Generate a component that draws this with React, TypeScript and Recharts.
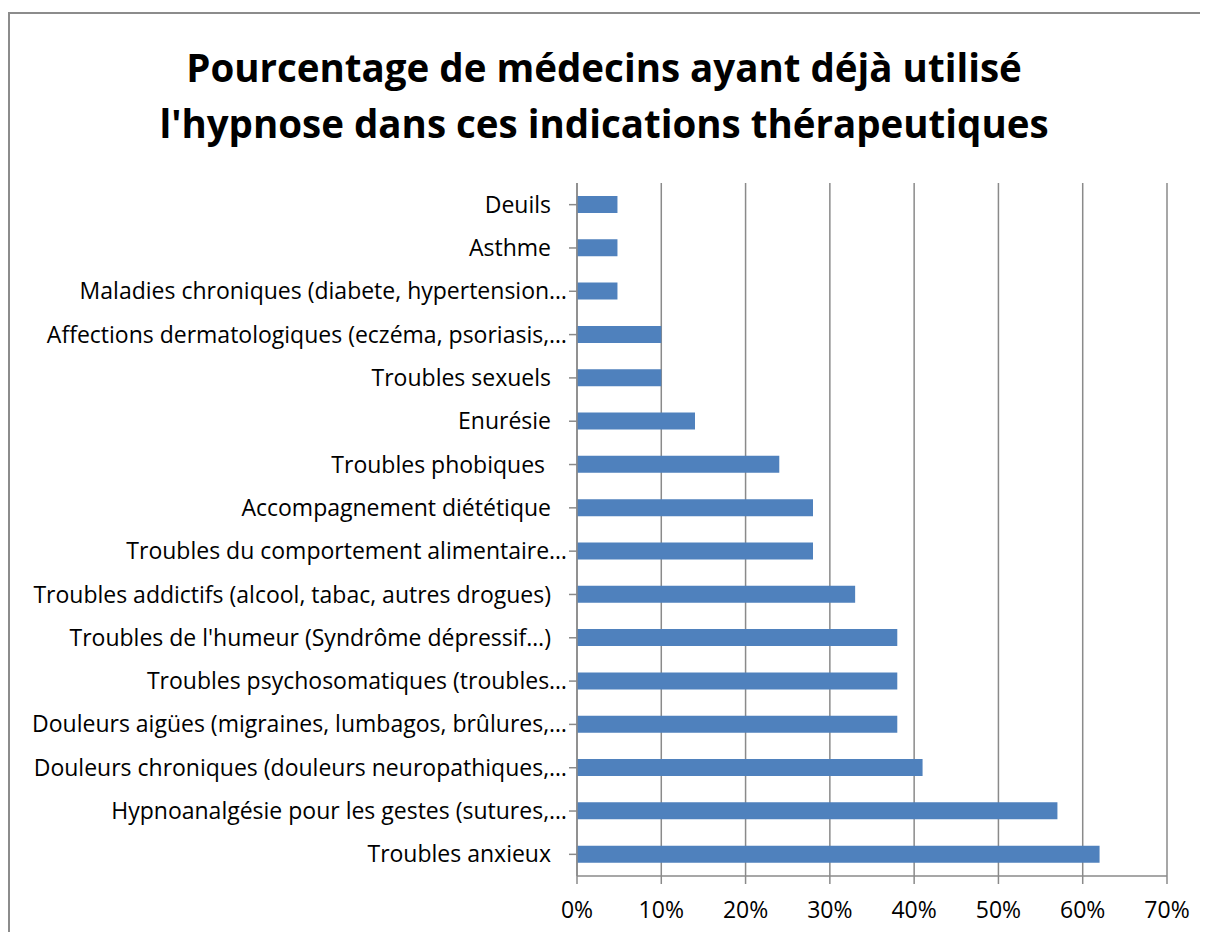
import { BarChart, Bar, XAxis, YAxis, CartesianGrid } from "recharts"

// Indications thérapeutiques, de haut en bas comme dans le graphique d'origine.
const categories = [
  "Deuils ",
  "Asthme ",
  "Maladies chroniques (diabete, hypertension…",
  "Affections dermatologiques (eczéma, psoriasis,…",
  "Troubles sexuels ",
  "Enurésie ",
  "Troubles phobiques  ",
  "Accompagnement diététique ",
  "Troubles du comportement alimentaire…",
  "Troubles addictifs (alcool, tabac, autres drogues) ",
  "Troubles de l'humeur (Syndrôme dépressif…) ",
  "Troubles psychosomatiques (troubles…",
  "Douleurs aigües (migraines, lumbagos, brûlures,…",
  "Douleurs chroniques (douleurs neuropathiques,…",
  "Hypnoanalgésie pour les gestes (sutures,…",
  "Troubles anxieux ",
]

// % de médecins
const pourcentages = [4.8, 4.8, 4.8, 10, 10, 14, 24, 28, 28, 33, 38, 38, 38, 41, 57, 62]

const xTicks = [0, 10, 20, 30, 40, 50, 60, 70]

const titleLines = [
  "Pourcentage de médecins ayant déjà utilisé",
  "l'hypnose dans ces indications thérapeutiques",
]

const data = categories.map((name, i) => ({ name, value: pourcentages[i] }))

const FONT = "'Open Sans', sans-serif"
const GRID = "#8a8a8a"

function CategoryTick(props: any) {
  const { x, y, payload } = props
  const label: string = payload.value
  const truncated = label.trimEnd().endsWith("…")
  // les libellés complets s'arrêtent un peu plus loin de l'axe que ceux tronqués
  return (
    <text
      x={truncated ? x : x - 16}
      y={y}
      dy="0.35em"
      textAnchor="end"
      fill="#000"
      fontSize={23}
      fontFamily={FONT}
      style={{ whiteSpace: "pre" }}
    >
      {truncated ? label.trimEnd() : label.replace(/ $/, "")}
    </text>
  )
}

export default function App() {
  return (
    <div
      style={{
        position: "relative",
        top: 4,
        width: 1200,
        height: 924,
        overflow: "hidden",
        background: "#fff",
        fontFamily: FONT,
      }}
    >
      <style>{`html, body { overflow: hidden; }`}</style>
      <div
        style={{
          position: "absolute",
          left: 0,
          top: 0,
          width: 1300,
          height: 1000,
          borderLeft: "2px solid #8c8c8c",
          borderTop: "2px solid #8c8c8c",
        }}
      />
      <div
        style={{
          position: "absolute",
          left: 0,
          top: 27,
          width: 1192,
          textAlign: "center",
          fontSize: 38.5,
          lineHeight: "56px",
          fontWeight: 700,
          color: "#000",
        }}
      >
        {titleLines.map((t) => (
          <div key={t}>{t}</div>
        ))}
      </div>
      <BarChart
        width={1200}
        height={924}
        data={data}
        layout="vertical"
        barCategoryGap="30%"
        margin={{ top: 171, right: 41, left: 0, bottom: 10 }}
        style={{ position: "absolute", left: 0, top: 0 }}
      >
        <CartesianGrid horizontal={false} stroke={GRID} strokeWidth={1.5} />
        <XAxis
          type="number"
          domain={[0, 70]}
          ticks={xTicks}
          tickFormatter={(v: number) => `${v}%`}
          height={50}
          tickSize={8}
          tickMargin={18}
          axisLine={{ stroke: GRID, strokeWidth: 1.5 }}
          tickLine={{ stroke: GRID, strokeWidth: 1.5 }}
          tick={{ fill: "#000", fontSize: 23, fontFamily: FONT }}
        />
        <YAxis
          type="category"
          dataKey="name"
          width={569}
          tickSize={8}
          tickMargin={2}
          interval={0}
          axisLine={{ stroke: GRID, strokeWidth: 1.5 }}
          tickLine={{ stroke: GRID, strokeWidth: 1.5 }}
          tick={<CategoryTick />}
        />
        <Bar dataKey="value" fill="#4F81BD" isAnimationActive={false} />
      </BarChart>
    </div>
  )
}
